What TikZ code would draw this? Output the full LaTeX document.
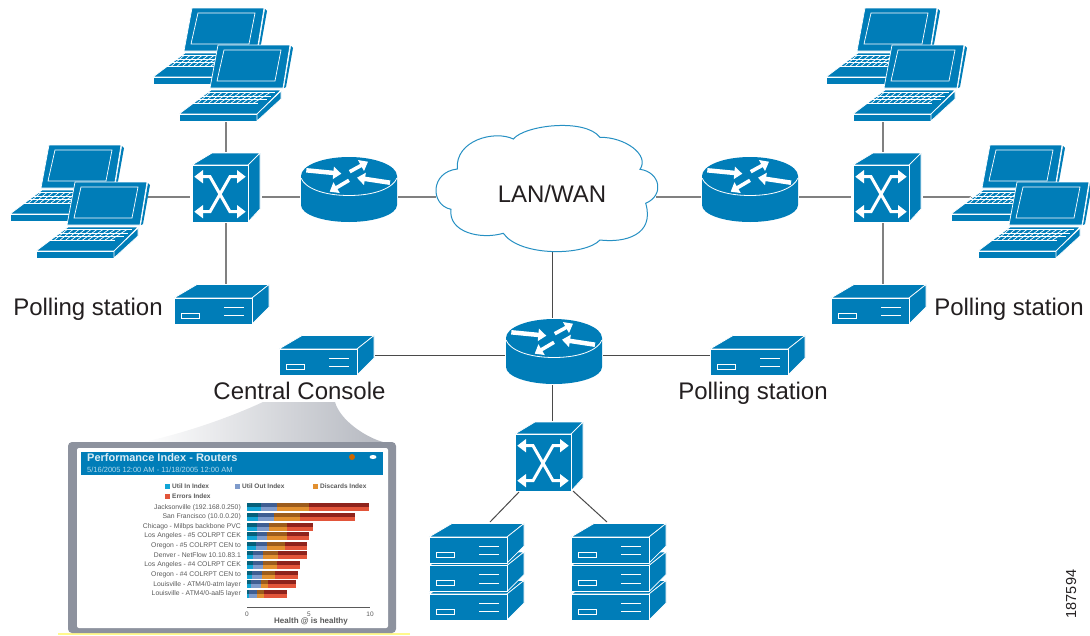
\documentclass[tikz,border=0pt]{standalone}
\usepackage{fontspec}
\setmainfont{Liberation Sans}
\usetikzlibrary{arrows.meta}
\definecolor{ciscoblue}{HTML}{007DB8}
\definecolor{wire}{HTML}{808080}
\definecolor{wiredark}{HTML}{4A4A4A}
\definecolor{inktext}{HTML}{231F20}
\definecolor{framegray}{HTML}{8D929E}
\definecolor{rowtext}{HTML}{5A5A5A}
\definecolor{barcyan}{HTML}{12A5D6}
\definecolor{barcyand}{HTML}{06607A}
\definecolor{barlilac}{HTML}{7F9BCB}
\definecolor{barlilacd}{HTML}{3F5E92}
\definecolor{barorange}{HTML}{E2902F}
\definecolor{barorangeD}{HTML}{9C5C1C}
\definecolor{barred}{HTML}{E2553A}
\definecolor{barredd}{HTML}{8E231C}
\tikzset{
  face/.style={fill=ciscoblue,draw=white,line width=.7pt,line join=round},
  plainface/.style={fill=ciscoblue,draw=none},
  hair/.style={draw=white,line width=.7pt},
  conn/.style={draw=wire,line width=1.5pt},
  conndark/.style={draw=wiredark,line width=1pt},
  lab/.style={text=inktext,font=\fontsize{24}{26}\selectfont,inner sep=0pt},
  routerarrow/.style={draw=white,-{Triangle[width=12pt,length=8pt]},line width=#1},
  switcharrow/.style={draw=white,line width=3pt},
  pics/laptopic/.style={code={
    \path[face] (39,0) -- (111,0) -- (104,43) -- (31,43) -- cycle;
    \path[plainface] (112,1) -- (114,3) -- (107,42) -- (105,43) -- cycle;
    \path[hair] (45,5) -- (102,5) -- (96,36) -- (38,36) -- cycle;
    \path[face] (0,69) -- (32,45) -- (102,45) -- (78,69) -- cycle;
    \path[face] (0,69) -- (78,69) -- (78,76) -- (0,76) -- cycle;
    \path[face] (78,69) -- (102,46) -- (102,54) -- (78,76) -- cycle;
    \foreach \yy/\xa/\xb in {47.5/24/96,51/20/92,54.5/16/88,58/12/79}
      \draw[white,line width=.7pt] (\xa,\yy) -- (\xb,\yy);
    \foreach \k in {0,...,11}
      \draw[white,line width=.7pt] ({25+\k*6},47.5) -- ({13+\k*5.6},58);
  }},
  pics/switchic/.style={code={
    \path[face] (0,12) -- (20,0) -- (68,0) -- (56,12) -- cycle;
    \path[face] (56,12) -- (68,0) -- (68,56) -- (56,69) -- cycle;
    \path[face] (0,12) -- (56,12) -- (56,69) -- (0,69) -- cycle;
    \draw[switcharrow] (8,23.7) -- (18,23.7) -- (38,58.7) -- (48,58.7);
    \draw[switcharrow] (48,23.7) -- (38,23.7) -- (18,58.7) -- (8,58.7);
    \fill[white] (2.3,23.7) -- (11,17) -- (11,30.4) -- cycle;
    \fill[white] (53.7,23.7) -- (45,17) -- (45,30.4) -- cycle;
    \fill[white] (2.3,58.7) -- (11,52) -- (11,65.4) -- cycle;
    \fill[white] (53.7,58.7) -- (45,52) -- (45,65.4) -- cycle;
    \coordinate (-n) at (34,-1);
    \coordinate (-s) at (34,70);
    \coordinate (-w) at (-2,44);
    \coordinate (-e) at (70,44);
  }},
  pics/routeric/.style={code={
    \path[plainface] (-48,0) -- (-48,29)
       .. controls (-48,38.4) and (-26.5,46) .. (0,46)
       .. controls (26.5,46) and (48,38.4) .. (48,29) -- (48,0) -- cycle;
    \path[plainface] (0,0) ellipse [x radius=48,y radius=19];
    \draw[white,line width=.8pt] (-48,2) .. controls (-44,12) and (-26,19.5) .. (0,19.5)
       .. controls (26,19.5) and (44,12) .. (48,2);
    \draw[routerarrow=4.5pt] (-42.7,-5.7) -- (-7.7,-2.3);
    \draw[routerarrow=3.6pt] (0.7,-4.3) -- (19,-14.3);
    \draw[routerarrow=4.5pt] (41,6.7) -- (8,1.7);
    \draw[routerarrow=3.6pt] (0,4.3) -- (-19.3,15.7);
    \coordinate (-n) at (0,-20);
    \coordinate (-s) at (0,47);
    \coordinate (-w) at (-49,21);
    \coordinate (-e) at (49,21);
  }},
  pics/serveric/.style={code={
    \path[face] (0,14) -- (23,0.5) -- (95,0.5) -- (78,14) -- cycle;
    \path[face] (78,14) -- (95,0.5) -- (95,23) -- (78,40) -- cycle;
    \path[face] (0,14) -- (78,14) -- (78,40) -- (0,40) -- cycle;
    \draw[white,line width=.8pt] (7,29) rectangle (25,34);
    \draw[white,line width=.8pt] (50,23) -- (70,23) (50,31.5) -- (70,31.5);
    \coordinate (-n) at (52,0);
    \coordinate (-e) at (96,20);
    \coordinate (-w) at (0,20);
  }}
}
\begin{document}
\begin{tikzpicture}[x=1pt,y=-1pt]
\useasboundingbox (0,0) rectangle (1090,635);
% screenshot callout
\shade[left color=white,right color=framegray!65] (143,442)
   .. controls (190,432) and (235,415) .. (263,402) -- (335,402)
   .. controls (340,420) and (365,437) .. (383,442) -- cycle;
\draw[yellow!45,line width=1.6pt] (58,634) -- (410,634);
\fill[framegray,rounded corners=4pt] (68,442) rectangle (396,633);
\fill[white,rounded corners=2pt] (77,448) rectangle (388,628);
\fill[ciscoblue] (81,452) rectangle (383,475);
\node[anchor=west,inner sep=0pt,text=white!85!ciscoblue,font=\bfseries\fontsize{11}{12}\selectfont] (scrtitle) at (87,458) {Performance Index - Routers};
\node[anchor=west,inner sep=0pt,text=white!70!ciscoblue,font=\fontsize{7.5}{8}\selectfont] (scrdate) at (87,470) {5/16/2005 12:00 AM - 11/18/2005 12:00 AM};
\fill[orange!80!black] (352,457) circle (3);
\fill[white] (373,457) ellipse [x radius=3.5,y radius=2];
\foreach \xx/\yy/\cc/\tt in {167/486/barcyan/Util In Index,237/486/barlilac/Util Out Index,315/486/barorange/Discards Index,167/496/barred/Errors Index}{
  \fill[\cc] (\xx-2.5,\yy-2.5) rectangle (\xx+2.5,\yy+2.5);
  \node[anchor=west,inner sep=0pt,text=rowtext,font=\bfseries\fontsize{6.5}{7}\selectfont] at (\xx+5,\yy) {\tt};
}
\foreach \a/\b/\c/\d/\lbl [count=\i from 0] in {
  632/682/778/958/{Jacksonville (192.168.0.250)},
  625/672/750/915/{San Francisco (10.0.0.20)},
  622/658/712/788/{Chicago - Milbps backbone PVC},
  620/650/712/778/{Los Angeles - \#5 COLRPT CEK},
  618/650/705/772/{Oregon - \#5 COLRPT CEN to},
  610/640/685/770/{Denver - NetFlow 10.10.83.1},
  608/638/680/750/{Los Angeles - \#4 COLRPT CEK},
  606/636/675/745/{Oregon - \#4 COLRPT CEN to},
  604/632/655/738/{Louisville - ATM4/0-atm layer},
  596/620/642/712/{Louisville - ATM4/0-aal5 layer}}{
  \pgfmathsetmacro{\yy}{507.3+9.63*\i}
  \pgfmathsetmacro{\xa}{\a/3+50}\pgfmathsetmacro{\xb}{\b/3+50}
  \pgfmathsetmacro{\xc}{\c/3+50}\pgfmathsetmacro{\xd}{\d/3+50}
  \node[anchor=east,inner sep=0pt,text=rowtext,font=\fontsize{6.8}{7}\selectfont] at (241,\yy) {\lbl};
  \fill[barcyand] (247,\yy-4) rectangle (\xa,\yy);
  \fill[barlilacd] (\xa,\yy-4) rectangle (\xb,\yy);
  \fill[barorangeD] (\xb,\yy-4) rectangle (\xc,\yy);
  \fill[barredd] (\xc,\yy-4) rectangle (\xd,\yy);
  \fill[barcyan] (247,\yy) rectangle (\xa,\yy+4);
  \fill[barlilac] (\xa,\yy) rectangle (\xb,\yy+4);
  \fill[barorange] (\xb,\yy) rectangle (\xc,\yy+4);
  \fill[barred] (\xc,\yy) rectangle (\xd,\yy+4);
}
\draw[rowtext,line width=.5pt] (247,607) -- (370,607);
\foreach \xx/\tt in {247/0,309/5,370/10}
  \node[inner sep=0pt,text=rowtext,font=\fontsize{6.5}{7}\selectfont] at (\xx,614) {\tt};
\node[inner sep=0pt,text=rowtext,font=\bfseries\fontsize{8}{9}\selectfont] (scraxis) at (311,621) {Health @ is healthy};
% named free ends of the connectors
\coordinate (cloudw) at (436,197);
\coordinate (cloude) at (656,197);
\coordinate (clouds) at (552.5,251);
\coordinate (stL) at (490,522);
\coordinate (stR) at (607,522);
\coordinate (swMsw) at (519,492);
\coordinate (swMse) at (573,491);
\coordinate (lapBs) at (226,122);
\coordinate (lapFs) at (883,122);
\coordinate (lapDe) at (148,197);
\coordinate (lapGw) at (972,197);
% devices: positions first, so the connectors can name them
\path (0,0) pic (swL) at (192,153) {switchic};
\pic (swR) at (853,153) {switchic};
\pic (swM) at (515,422) {switchic};
\pic (rtL) at (349,176) {routeric};
\pic (rtR) at (750,176) {routeric};
\pic (rtM) at (554,338) {routeric};
\pic (psL) at (174,284) {serveric};
\pic (psR) at (831,284) {serveric};
\pic (cc) at (279,335) {serveric};
\pic (psM) at (710,335) {serveric};
% connectors
\draw[conn] (lapBs) -- (swL-n);
\draw[conn] (lapDe) -- (swL-w);
\draw[conn] (swL-e) -- (rtL-w);
\draw[conn] (rtL-e) -- (cloudw);
\draw[conn] (swL-s) -- (psL-n);
\draw[conn] (cloude) -- (rtR-w);
\draw[conn] (rtR-e) -- (swR-w);
\draw[conn] (swR-e) -- (lapGw);
\draw[conn] (lapFs) -- (lapFs |- swR-n);
\draw[conn] (psR-n |- swR-s) -- (psR-n);
\draw[conndark] (clouds) -- (clouds |- rtM-n);
\draw[conndark] (cc-e) -- (rtM-w |- cc-e);
\draw[conndark] (rtM-e |- psM-w) -- (psM-w);
\draw[conndark] (clouds |- rtM-s) -- (clouds |- swM-n);
\draw[conndark] (swMsw) -- (stL);
\draw[conndark] (swMse) -- (stR);
% cloud
\path[draw=ciscoblue!85,line width=1pt,fill=white] (513.3,139)
  .. controls (525,125) and (585,118) .. (600,137.3)
  .. controls (625,137) and (650,155) .. (640,169.3)
  .. controls (660,172) and (665,195) .. (645.7,203.3)
  .. controls (655,235) and (625,243) .. (600,240)
  .. controls (585,256) and (520,257) .. (503.3,233.3)
  .. controls (480,240) and (448,232) .. (451,209.3)
  .. controls (430,205) and (430,172) .. (457.3,169)
  .. controls (455,140) and (495,130) .. (513.3,139) -- cycle;
\node[lab] (cloud) at (552,194) {LAN/WAN};
% laptops and server stacks
\pic (lapA) at (153,8) {laptopic};
\pic (lapB) at (179,45) {laptopic};
\pic (lapC) at (10,145) {laptopic};
\pic (lapD) at (36,182) {laptopic};
\pic (lapE) at (826,8) {laptopic};
\pic (lapF) at (853,45) {laptopic};
\pic (lapG) at (951,145) {laptopic};
\pic (lapH) at (978,182) {laptopic};
\foreach \sx in {429,571}{
  \pic at (\sx,580) {serveric};
  \pic at (\sx,551.5) {serveric};
  \pic at (\sx,523) {serveric};
}
% labels
\node[lab] (lblA) at (88,309) {Polling station};
\node[lab] (lblB) at (1009,309) {Polling station};
\node[lab] (lblC) at (753,393) {Polling station};
\node[lab] (lblD) at (299.5,391) {Central Console};
\node[inner sep=0pt,rotate=90,text=inktext,font=\fontsize{14.5}{16}\selectfont] (figno) at (1071,594) {187594};
\end{tikzpicture}
\end{document}
